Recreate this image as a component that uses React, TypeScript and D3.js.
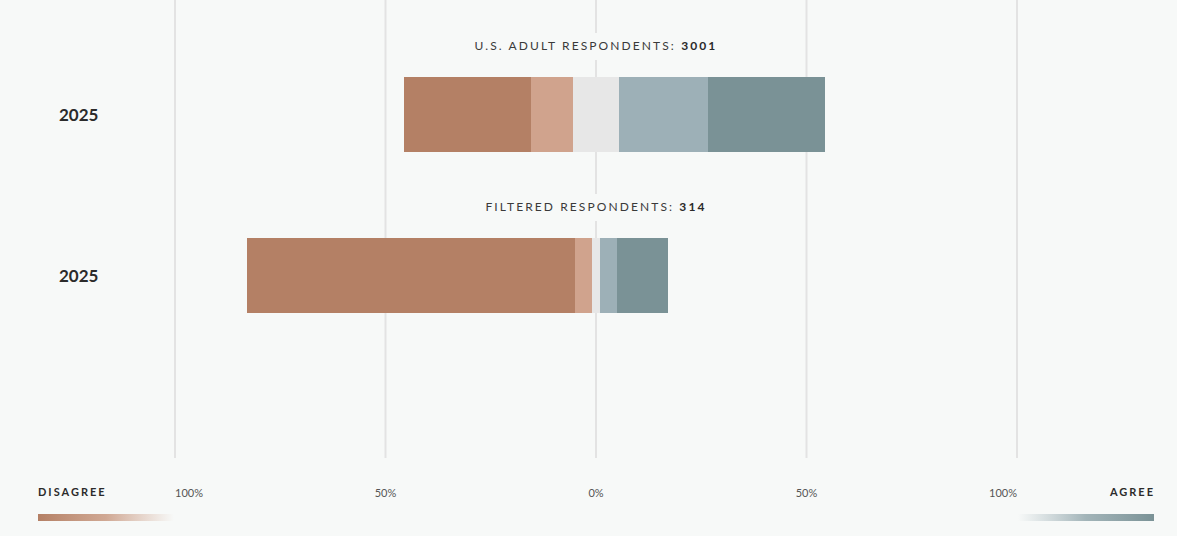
import React from "react";
import * as d3 from "d3";

const rows = ["U.S. ADULT RESPONDENTS", "FILTERED RESPONDENTS"];
const rowCounts = [3001, 314];
const rowYears = ["2025", "2025"];
const categories = ["Strongly disagree", "Disagree", "Neutral", "Agree", "Strongly agree"];
const usValues = [30, 10, 11, 21, 28];
const filteredValues = [78, 4, 2, 4, 12];
const seriesValues = [usValues, filteredValues];
const colors = ["#b48065", "#d0a38d", "#e7e7e7", "#9db0b7", "#7a9296"];
const tickValues = [-100, -50, 0, 50, 100];
const tickLabels = ["100%", "50%", "0%", "50%", "100%"];

const W = 1177;
const H = 536;
const BG = "#f7f9f8";
const FONT = "Lato, 'Open Sans', sans-serif";

export default function App() {
  const x = d3.scaleLinear().domain([-100, 100]).range([175, 1017]);
  const y = d3.scaleBand<string>().domain(rows).range([77, 313]).paddingInner(86 / 161).paddingOuter(0);

  const segs = seriesValues.map((vals) => {
    const neutral = vals[2];
    let start = -neutral / 2 - vals[0] - vals[1];
    return vals.map((v, i) => {
      const s = start;
      start += v;
      return { x0: s, x1: s + v, i, cat: categories[i] };
    });
  });

  return (
    <svg width={W} height={H} style={{ position: "absolute", left: 0, top: 0, background: BG }} fontFamily={FONT}>
      <defs>
        <linearGradient id="gDis" x1="0" x2="1" y1="0" y2="0">
          <stop offset="0" stopColor="#b48065" stopOpacity={1} />
          <stop offset="0.5" stopColor="#c99a82" stopOpacity={0.85} />
          <stop offset="1" stopColor="#d0a38d" stopOpacity={0} />
        </linearGradient>
        <linearGradient id="gAgr" x1="0" x2="1" y1="0" y2="0">
          <stop offset="0" stopColor="#9db0b7" stopOpacity={0} />
          <stop offset="0.5" stopColor="#93a8ad" stopOpacity={0.85} />
          <stop offset="1" stopColor="#7a9296" stopOpacity={1} />
        </linearGradient>
      </defs>
      <rect x={0} y={0} width={W} height={H} fill={BG} />
      {tickValues.map((t) => (
        <line key={"g" + t} x1={x(t)} x2={x(t)} y1={0} y2={458} stroke="#e3e3e3" strokeWidth={2} />
      ))}
      {rows.map((r, ri) => {
        const top = y(r)!;
        const bw = y.bandwidth();
        return (
          <g key={r}>
            <rect x={x(0) - 125} y={top - 44} width={250} height={27} fill={BG} />
            <text
              x={x(0)}
              y={top - 27}
              textAnchor="middle"
              fontSize={12}
              letterSpacing={2.1}
              fill="#3a3a3a"
            >
              {r}: <tspan fontWeight={700} fill="#2a2a2a">{rowCounts[ri]}</tspan>
            </text>
            <text x={59} y={top + bw / 2 + 6} fontSize={17} fontWeight={700} fill="#2b2b2b">
              {rowYears[ri]}
            </text>
            {segs[ri].map((s) => (
              <rect
                key={s.i}
                x={x(s.x0)}
                y={top}
                width={x(s.x1) - x(s.x0)}
                height={bw}
                fill={colors[s.i]}
                shapeRendering="crispEdges"
              />
            ))}
          </g>
        );
      })}
      {tickValues.map((t, i) => (
        <text
          key={"t" + t}
          x={x(t)}
          y={497}
          fontSize={11}
          fill="#555"
          textAnchor={i === 0 ? "start" : i === tickValues.length - 1 ? "end" : "middle"}
        >
          {tickLabels[i]}
        </text>
      ))}
      <text x={38} y={496} fontSize={11} fontWeight={700} letterSpacing={2} fill="#2b2b2b">
        DISAGREE
      </text>
      <rect x={38} y={514} width={136} height={7} fill="url(#gDis)" />
      <text x={1155} y={496} fontSize={11} fontWeight={700} letterSpacing={2} fill="#2b2b2b" textAnchor="end">
        AGREE
      </text>
      <rect x={1018} y={514} width={136} height={7} fill="url(#gAgr)" />
    </svg>
  );
}
